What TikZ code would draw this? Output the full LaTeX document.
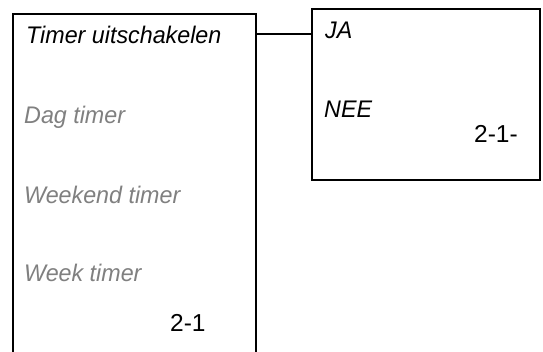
\documentclass[tikz,border=0pt]{standalone}
\usepackage{fontspec}
\setmainfont{Liberation Sans}
\newfontfamily\itemfont[FakeStretch=0.97]{Liberation Sans}
\definecolor{dimtext}{RGB}{128,128,128}
\begin{document}
\begin{tikzpicture}[x=1pt,y=-1pt,
  frame/.style={draw=black, line width=1.9pt, inner sep=0pt, outer sep=0pt, anchor=north west},
  conn/.style={draw=black, line width=1.6pt},
  item/.style={anchor=base west, inner sep=0pt, font=\itemfont\fontsize{24}{28}\selectfont\itshape},
  dimitem/.style={item, text=dimtext},
  num/.style={anchor=base west, inner sep=0pt, font=\fontsize{24.5}{28}\selectfont}]
\useasboundingbox (0,0) rectangle (543,351);
\clip (0,0) rectangle (543,351);
\node[frame, minimum width=243pt, minimum height=346pt] (menu) at (13,14) {};
\node[frame, minimum width=228pt, minimum height=171pt] (choice) at (312,9) {};
\draw[conn] ([yshift=-20pt]menu.north east) -- ([yshift=-25pt]choice.north west);
\node[item] (t1) at (26,43) {Timer uitschakelen};
\node[dimitem] (t2) at (24,123) {Dag timer};
\node[dimitem] (t3) at (24,203) {Weekend timer};
\node[dimitem] (t4) at (24,281) {Week timer};
\node[num] (n1) at (170,331) {2-1};
\node[item] (ja) at (325,38) {JA};
\node[item] (nee) at (324,117) {NEE};
\node[num] (n2) at (474,142) {2-1-};
\end{tikzpicture}
\end{document}
